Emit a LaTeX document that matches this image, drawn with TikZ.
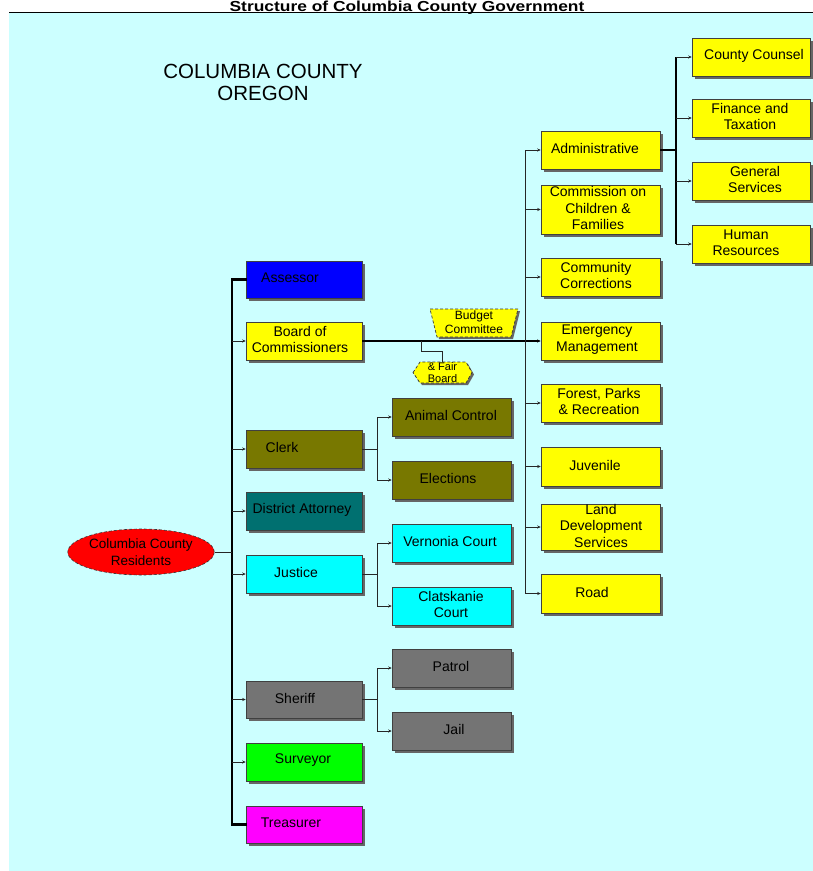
\documentclass[tikz,border=0pt]{standalone}
\usepackage{fontspec}
\setmainfont{Liberation Sans}
\usetikzlibrary{arrows.meta,shadows,shapes.geometric}
\definecolor{cbg}{HTML}{CCFFFF}
\definecolor{cyell}{HTML}{FFFF00}
\definecolor{cblue}{HTML}{0000FF}
\definecolor{colive}{HTML}{787800}
\definecolor{cteal}{HTML}{007070}
\definecolor{ccyan}{HTML}{00FFFF}
\definecolor{cgray}{HTML}{747474}
\definecolor{cgreen}{HTML}{00FF00}
\definecolor{cmag}{HTML}{FF00FF}
\definecolor{cred}{HTML}{FF0000}
\newcommand{\orgbox}[8]{%
  \node[box, fill=#2, minimum width=#5pt, minimum height=#6pt] (#1) at (#3,#4) {};
  \node[lbl] (#1t) at (#7,#4-1.5) {#8};}
\begin{document}
\begin{tikzpicture}[x=1pt,y=-1pt,
  box/.style={draw=black!75, line width=0.5pt, inner sep=0pt,
    drop shadow={shadow xshift=2.5pt, shadow yshift=-2.5pt, fill=black!60, opacity=1}},
  lbl/.style={font=\fontsize{14}{16.5}\selectfont, align=center, inner sep=0pt},
  conn/.style={line width=1pt, draw=black!85},
  arr/.style={conn, -{Stealth[length=3.5pt,width=3pt]}},
  trunk/.style={line width=2.6pt, line join=miter, line cap=rect},
  odd/.style={fill=cyell, draw=black!80, densely dashed, line width=0.7pt,
    drop shadow={shadow xshift=2pt, shadow yshift=-2pt, fill=black!60, opacity=1}}]
\useasboundingbox (0,0) rectangle (813,871);
\fill[cbg] (9,13) rectangle (813,871);
\draw[line width=1.4pt] (9,12.5) -- (813,12.5);
\node[anchor=base, font=\fontsize{14.5}{16}\selectfont\bfseries, inner sep=0pt] (title) at (407,11) {\scalebox{1.2}[1]{Structure of Columbia County Government}};
\node[align=center, font=\fontsize{20.5}{22}\selectfont, inner sep=0pt] (county) at (263,82) {COLUMBIA COUNTY\\OREGON};

% junction coordinates
\coordinate (ltop) at (232,0);
\coordinate (cj) at (377,0);
\coordinate (rtop) at (525,150);
\coordinate (rbot) at (525,593.5);
\coordinate (aj) at (676,0);

% left column
\orgbox{assessor}{cblue}{304}{279.5}{116}{37}{290}{Assessor}
\orgbox{board}{cyell}{304}{341}{116}{38}{300}{Board of\\Commissioners}
\orgbox{clerk}{colive}{304}{449}{116}{38}{282}{Clerk}
\orgbox{da}{cteal}{304}{511}{116}{38}{302}{District Attorney}
\orgbox{justice}{ccyan}{304}{574}{116}{38}{296}{Justice}
\orgbox{sheriff}{cgray}{304}{699.5}{116}{37}{295}{Sheriff}
\orgbox{surveyor}{cgreen}{304}{762}{116}{38}{303}{Surveyor}
\orgbox{treasurer}{cmag}{304}{824.5}{116}{37}{291}{Treasurer}

% sub column
\orgbox{animal}{colive}{451.5}{417}{119}{38}{451}{Animal Control}
\orgbox{elections}{colive}{451.5}{480}{119}{38}{448}{Elections}
\orgbox{vernonia}{ccyan}{451.5}{543}{119}{38}{450}{Vernonia Court}
\orgbox{clatskanie}{ccyan}{451.5}{606}{119}{38}{451}{Clatskanie\\Court}
\orgbox{patrol}{cgray}{451.5}{668}{119}{38}{451}{Patrol}
\orgbox{jail}{cgray}{451.5}{731}{119}{38}{454}{Jail}

% right column
\orgbox{admin}{cyell}{600.5}{150}{119}{38}{595}{Administrative}
\orgbox{ccf}{cyell}{600.5}{209.5}{119}{49}{598}{Commission on\\Children \&\\Families}
\orgbox{corr}{cyell}{600.5}{277}{119}{38}{596}{Community\\Corrections}
\orgbox{emerg}{cyell}{600.5}{341}{119}{38}{597}{Emergency\\Management}
\orgbox{forest}{cyell}{600.5}{403}{119}{38}{599}{Forest, Parks\\\& Recreation}
\orgbox{juvenile}{cyell}{600.5}{466.5}{119}{39}{595}{Juvenile}
\orgbox{land}{cyell}{600.5}{527}{119}{46}{601}{Land\\Development\\Services}
\orgbox{road}{cyell}{600.5}{593.5}{119}{39}{592}{Road}

% far right column
\orgbox{counsel}{cyell}{751}{57}{118}{38}{754}{County Counsel}
\orgbox{finance}{cyell}{751}{118}{118}{38}{750}{Finance and\\Taxation}
\orgbox{general}{cyell}{751}{181}{118}{38}{755}{General\\Services}
\orgbox{hr}{cyell}{751}{244}{118}{38}{746}{Human\\Resources}

% residents
\node[ellipse, fill=cred, draw=black!80, densely dashed, line width=0.6pt,
  minimum width=144pt, minimum height=46pt, inner sep=0pt, align=center,
  font=\fontsize{13.5}{16.5}\selectfont] (res) at (141,552) {Columbia County\\Residents};

% budget committee and fair board
\path[odd] (430,309) -- (518,309) -- (511,337) -- (437,337) -- cycle;
\node[lbl, font=\fontsize{12}{14}\selectfont] (budget) at (474,322.5) {Budget\\Committee};
\path[odd] (413,372.5) -- (420,362) -- (466,362) -- (472,372.5) -- (466,383) -- (420,383) -- cycle;
\node[lbl, font=\fontsize{11}{11.5}\selectfont, minimum width=59pt, minimum height=21pt] (fair) at (442.5,372.5) {\& Fair\\Board};

% left trunk
\draw[trunk] (assessor.west) -- (assessor.west -| ltop) -- (treasurer.west -| ltop) -- (treasurer.west);
\draw[conn] (res.east) -- (res.east -| ltop);
\foreach \n in {board,clerk,da,justice,sheriff,surveyor}
  \draw[arr] (\n.west -| ltop) -- (\n.west);

% sub brackets
\foreach \p/\a/\b in {clerk/animal/elections, justice/vernonia/clatskanie, sheriff/patrol/jail}{
  \draw[conn] (\p.east) -- (\p.east -| cj);
  \draw[arr] (\p.east -| cj) |- (\a.west);
  \draw[arr] (\p.east -| cj) |- (\b.west);
}

% board to right trunk
\draw[line width=1.8pt, -{Stealth[length=3.5pt,width=3pt]}] (board.east) -- (board.east -| emerg.west);
\draw[conn] (rtop) -- (rbot);
\foreach \n in {admin,ccf,corr,forest,juvenile,land,road}
  \draw[arr] (\n.west -| rtop) -- (\n.west);
\coordinate (fbx) at (421,351);
\draw[conn] (fbx |- board.east) -- (fbx) -| (fair.north);

% administrative sub
\draw[line width=2.2pt] (admin.east) -- (admin.east -| aj);
\draw[line width=2.2pt] (counsel.west -| aj) -- (hr.west -| aj);
\foreach \n in {counsel,finance,general,hr}
  \draw[arr] (\n.west -| aj) -- (\n.west);
\end{tikzpicture}
\end{document}
